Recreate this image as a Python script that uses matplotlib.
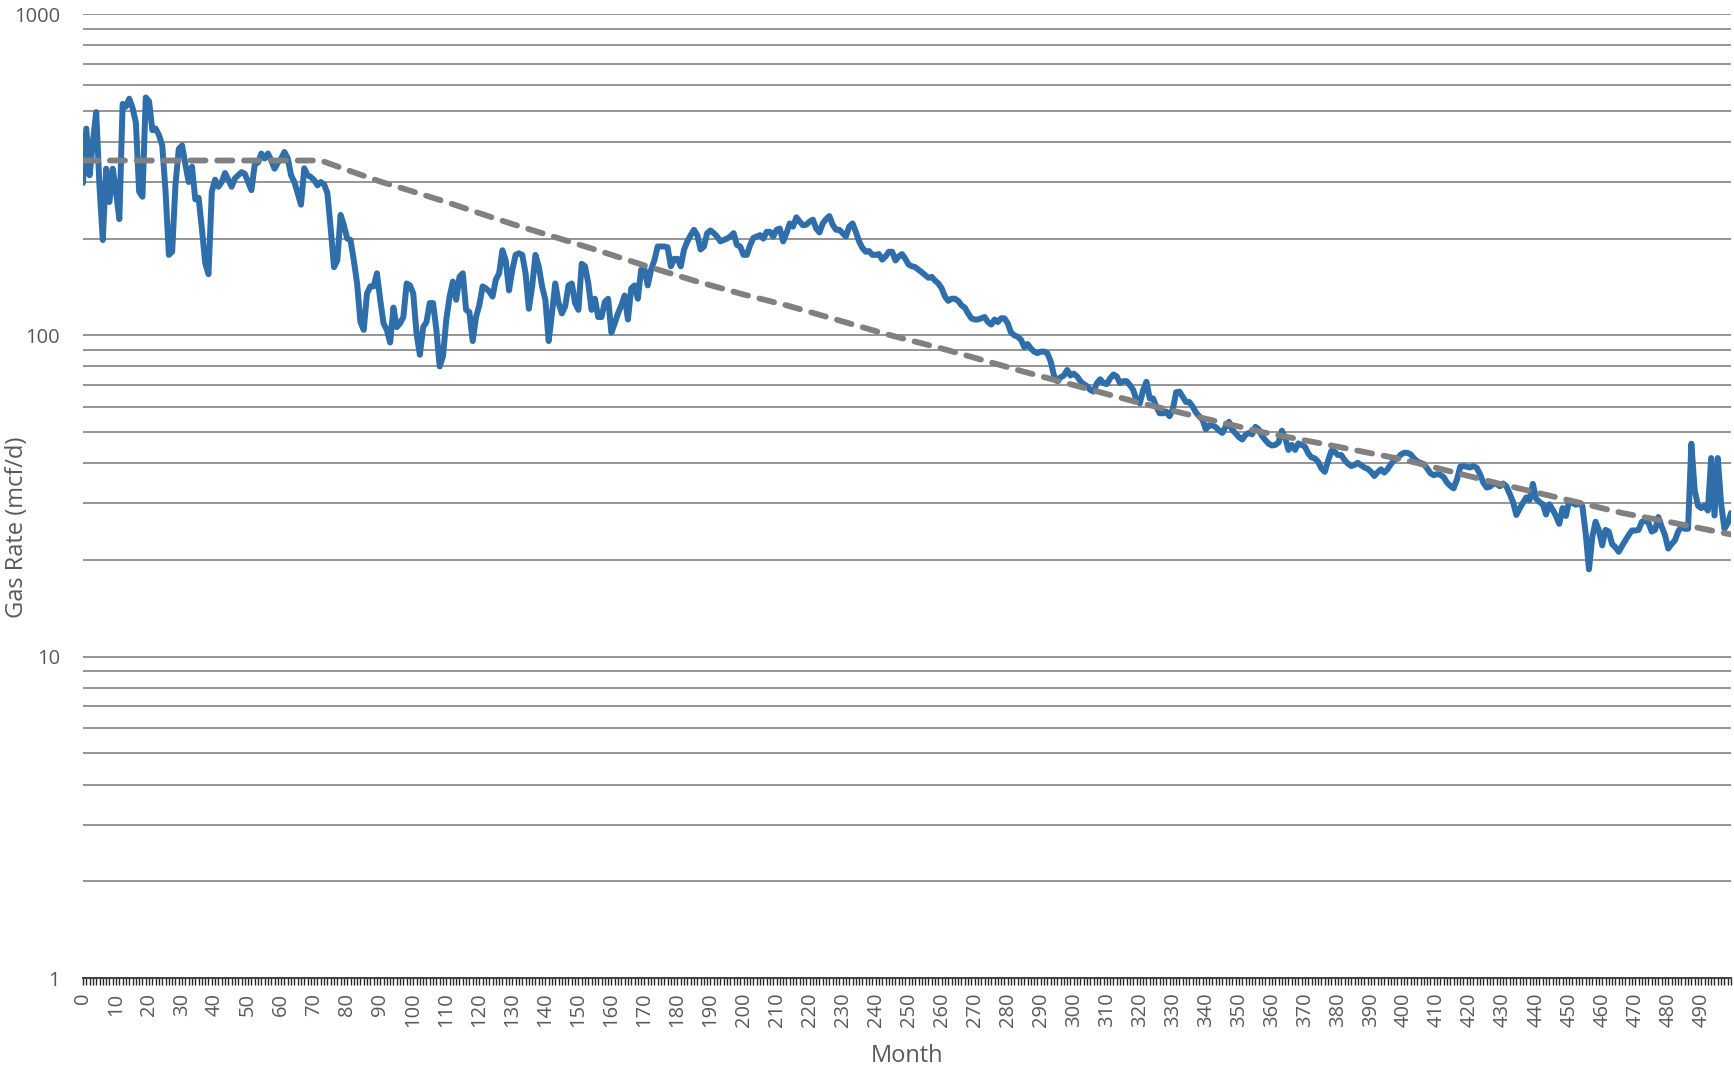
import numpy as np
import matplotlib
matplotlib.use("Agg")
from matplotlib import pyplot as plt
from matplotlib.ticker import MultipleLocator, FixedLocator, NullFormatter

plt.rcParams['font.family'] = ['Open Sans', 'DejaVu Sans']

# monthly gas rate, month 0 .. 499
gas_rate = [
    298, 440, 315, 400, 495, 290, 198, 330, 260, 330,
    280, 230, 525, 515, 545, 510, 460, 280, 270, 550,
    535, 435, 440, 420, 390, 280, 178, 182, 295, 380,
    390, 340, 300, 335, 265, 268, 215, 168, 155, 280,
    305, 290, 300, 320, 305, 290, 308, 315, 322, 318,
    300, 283, 340, 345, 368, 355, 368, 350, 330, 345,
    355, 372, 355, 315, 300, 277, 255, 331, 315, 311,
    304, 293, 300, 295, 277, 215, 163, 171, 237, 220,
    200, 198, 171, 145, 110, 104, 135, 142, 142, 156,
    129, 109, 104, 95, 122, 106, 109, 114, 145, 143,
    135, 101, 87, 106, 110, 126, 126, 104, 80, 86,
    112, 132, 147, 129, 152, 156, 120, 118, 96, 114,
    124, 142, 140, 137, 132, 149, 156, 184, 171, 138,
    160, 178, 180, 178, 156, 121, 142, 178, 164, 142,
    129, 96, 117, 145, 126, 117, 123, 143, 145, 126,
    120, 167, 164, 145, 120, 130, 114, 114, 127, 130,
    102, 109, 117, 124, 133, 112, 140, 143, 130, 160,
    161, 143, 160, 171, 189, 189, 189, 188, 164, 173,
    173, 164, 185, 196, 205, 213, 205, 185, 189, 208,
    212, 208, 203, 196, 198, 200, 203, 208, 191, 189,
    178, 178, 191, 201, 203, 205, 200, 210, 210, 203,
    213, 215, 196, 208, 223, 218, 233, 226, 220, 221,
    226, 229, 215, 209, 223, 230, 235, 221, 213, 213,
    208, 203, 218, 223, 210, 196, 187, 182, 183, 178,
    178, 179, 172, 176, 182, 182, 171, 176, 179, 173,
    166, 164, 163, 160, 157, 154, 151, 152, 148, 145,
    140, 132, 128, 130, 130, 128, 124, 122, 117, 113,
    112, 112, 113, 114, 110, 108, 112, 110, 113, 113,
    109, 102, 100, 99, 97, 92, 94, 91, 89, 88,
    89, 89, 88, 83, 75, 72, 74, 75, 78, 75,
    76, 74.5, 72, 70.5, 69.5, 67.6, 66.8, 71, 73, 71,
    70.5, 73.5, 75.5, 74.5, 71, 72, 72, 70, 67.6, 62.9,
    61.4, 67.6, 71.7, 63.6, 63.6, 60, 57.2, 57.2, 57.9, 56,
    59, 66.5, 66.8, 64.4, 62, 62, 60, 57.5, 56, 54.5,
    51, 52.5, 52.4, 51.8, 50.5, 49.7, 52, 53.8, 50.7, 49.6,
    48.2, 47.4, 49, 49.7, 49.2, 51.9, 51, 48.6, 47.2, 46,
    45.4, 45.6, 46.4, 50.5, 48, 44, 45.6, 44, 46.1, 45.6,
    45, 42.9, 41.7, 41.4, 40.4, 38.5, 37.6, 40.7, 43.7, 43.4,
    42.4, 42.4, 40.9, 39.9, 39.2, 39.5, 40.1, 39.4, 38.8, 38.4,
    37.6, 36.5, 37.5, 38.3, 37.4, 38.3, 39.7, 40.9, 41.5, 42.5,
    43.1, 43.1, 42.6, 41.4, 40.5, 40.1, 39.7, 38.5, 37.2, 36.7,
    37, 36.8, 36.2, 34.8, 34, 33.4, 35.5, 39, 39.2, 39,
    38.8, 39.2, 38.7, 37, 34.8, 33.6, 33.8, 34.5, 34.5, 33.9,
    34.6, 33.9, 32.1, 30.3, 27.6, 28.9, 30.1, 31.3, 30.7, 34.5,
    31, 30.3, 29.8, 27.7, 29.8, 28.7, 27.4, 25.9, 29, 27.4,
    30.5, 30.1, 29.7, 30, 29.4, 24.2, 18.7, 23.6, 26.3, 24.7,
    22.2, 24.8, 24.5, 22.4, 21.9, 21.2, 22.1, 23, 23.9, 24.7,
    24.7, 24.8, 26.3, 26.5, 26.1, 24.5, 24.8, 27.2, 25.4, 23.9,
    21.7, 22.4, 23, 24.5, 25.4, 25, 25, 46, 33, 29.5,
    29, 29.5, 28.5, 41.5, 27.5, 41.5, 30, 25, 26, 28,
]
months = list(range(len(gas_rate)))

# decline curve (dashed), sampled off the chart
trend_month = [0, 72, 80, 90, 100, 110, 120, 130, 143, 155, 170, 185, 200, 213,
               228, 243, 260, 285, 300, 319, 340, 357, 380, 400, 429, 451, 466, 480, 499]
trend_rate = [350, 350, 327, 301, 280, 260, 240, 222, 202, 185, 165, 148, 134, 124,
              112, 101, 91, 77, 70, 62, 55, 50, 45, 41, 34.5, 30.5, 28, 26.3, 24]

x_labels = list(range(0, 500, 10))
y_major = [1, 10, 100, 1000]

text_col = "#595959"
grid_col = "#8c8c8c"

fig = plt.figure(figsize=(17.34, 10.70), dpi=100)
ax = fig.add_axes([83 / 1734, 1 - 978 / 1070, 1648 / 1734, 964 / 1070])

ax.set_yscale("log")
ax.set_ylim(1, 1000)
ax.set_xlim(0, len(gas_rate) - 1)

ax.plot(months, gas_rate, color="#2e6eab", lw=4.3, solid_joinstyle="round",
        solid_capstyle="round", zorder=4)
# trend line sits on top of the data, like the original
ax.plot(trend_month, trend_rate, color="#808080", lw=4.2, dashes=(2.6, 2.0),
        dash_capstyle="round", zorder=5)

# y axis: log gridlines, labels only on decades
ax.yaxis.set_major_locator(FixedLocator(y_major))
ax.yaxis.set_major_formatter(plt.FuncFormatter(lambda v, p: "%d" % v))
minor_y = [m * 10 ** e for e in range(0, 3) for m in range(2, 10)]
ax.yaxis.set_minor_locator(FixedLocator(minor_y))
ax.yaxis.set_minor_formatter(NullFormatter())
ax.grid(True, which="both", axis="y", color=grid_col, lw=1.3, zorder=1)
ax.tick_params(axis="y", which="both", length=0, pad=16.5, labelsize=14.5, labelcolor=text_col)

# x axis: a tick every month, label every 10
ax.set_xticks(x_labels)
ax.set_xticklabels([str(v) for v in x_labels], rotation=90)
ax.xaxis.set_minor_locator(MultipleLocator(1))
ax.tick_params(axis="x", which="both", direction="out", length=5, width=1.0,
               color="#262626", pad=5.5, labelsize=14.5, labelcolor=text_col)

for side in ["left", "right", "top"]:
    ax.spines[side].set_visible(False)
ax.spines["bottom"].set_color("#404040")
ax.spines["bottom"].set_linewidth(1.4)

fig.text(907 / 1734, 1 - 1056 / 1070, "Month", ha="center", va="center",
         fontsize=17, color=text_col)
fig.text(17 / 1734, 1 - 527 / 1070, "Gas Rate (mcf/d)", ha="center", va="center",
         rotation=90, fontsize=17, color=text_col)

fig.savefig("out.png", dpi=100)
